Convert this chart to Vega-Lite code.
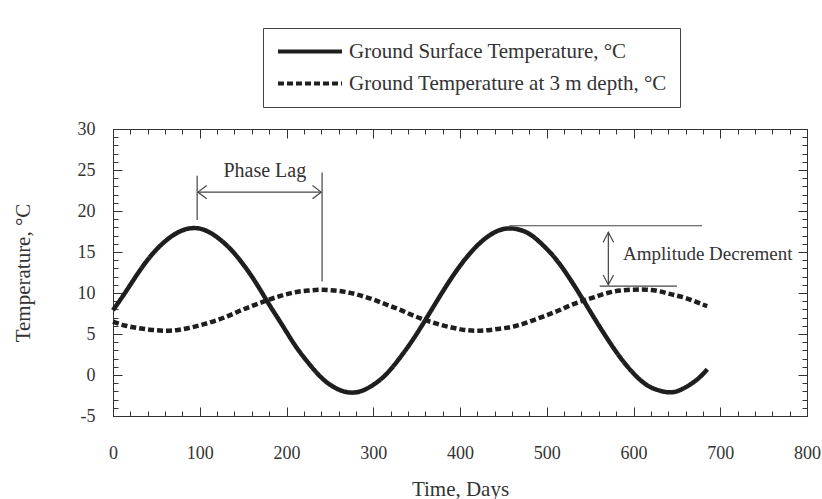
{
  "$schema": "https://vega.github.io/schema/vega-lite/v6.json",
  "width": 694,
  "height": 287,
  "autosize": {"type": "none"},
  "padding": {"left": 113, "top": 129, "right": 15, "bottom": 83},
  "background": "white",
  "config": {
    "view": {"stroke": "#333", "strokeWidth": 1},
    "font": "Liberation Serif",
    "axis": {"grid": false, "domainColor": "#333", "tickColor": "#333", "labelColor": "#333", "titleColor": "#333", "labelFont": "Liberation Serif", "titleFont": "Liberation Serif", "labelFontSize": 18, "titleFontSize": 21, "titleFontWeight": "normal"}
  },
  "datasets": {
    "temps": [
      {"day": 0, "temp": 7.9, "series": "Ground Surface Temperature, °C"},
      {"day": 15, "temp": 10.2, "series": "Ground Surface Temperature, °C"},
      {"day": 30, "temp": 12.6, "series": "Ground Surface Temperature, °C"},
      {"day": 45, "temp": 14.7, "series": "Ground Surface Temperature, °C"},
      {"day": 60, "temp": 16.3, "series": "Ground Surface Temperature, °C"},
      {"day": 75, "temp": 17.4, "series": "Ground Surface Temperature, °C"},
      {"day": 90, "temp": 17.9, "series": "Ground Surface Temperature, °C"},
      {"day": 105, "temp": 17.7, "series": "Ground Surface Temperature, °C"},
      {"day": 120, "temp": 16.8, "series": "Ground Surface Temperature, °C"},
      {"day": 135, "temp": 15.4, "series": "Ground Surface Temperature, °C"},
      {"day": 150, "temp": 13.5, "series": "Ground Surface Temperature, °C"},
      {"day": 165, "temp": 11.2, "series": "Ground Surface Temperature, °C"},
      {"day": 180, "temp": 8.6, "series": "Ground Surface Temperature, °C"},
      {"day": 195, "temp": 6.1, "series": "Ground Surface Temperature, °C"},
      {"day": 210, "temp": 3.6, "series": "Ground Surface Temperature, °C"},
      {"day": 225, "temp": 1.5, "series": "Ground Surface Temperature, °C"},
      {"day": 240, "temp": -0.3, "series": "Ground Surface Temperature, °C"},
      {"day": 255, "temp": -1.5, "series": "Ground Surface Temperature, °C"},
      {"day": 270, "temp": -2.1, "series": "Ground Surface Temperature, °C"},
      {"day": 285, "temp": -2.0, "series": "Ground Surface Temperature, °C"},
      {"day": 300, "temp": -1.2, "series": "Ground Surface Temperature, °C"},
      {"day": 315, "temp": 0.1, "series": "Ground Surface Temperature, °C"},
      {"day": 330, "temp": 2.0, "series": "Ground Surface Temperature, °C"},
      {"day": 345, "temp": 4.2, "series": "Ground Surface Temperature, °C"},
      {"day": 360, "temp": 6.7, "series": "Ground Surface Temperature, °C"},
      {"day": 375, "temp": 9.3, "series": "Ground Surface Temperature, °C"},
      {"day": 390, "temp": 11.8, "series": "Ground Surface Temperature, °C"},
      {"day": 405, "temp": 14.0, "series": "Ground Surface Temperature, °C"},
      {"day": 420, "temp": 15.8, "series": "Ground Surface Temperature, °C"},
      {"day": 435, "temp": 17.1, "series": "Ground Surface Temperature, °C"},
      {"day": 450, "temp": 17.8, "series": "Ground Surface Temperature, °C"},
      {"day": 465, "temp": 17.8, "series": "Ground Surface Temperature, °C"},
      {"day": 480, "temp": 17.2, "series": "Ground Surface Temperature, °C"},
      {"day": 495, "temp": 15.9, "series": "Ground Surface Temperature, °C"},
      {"day": 510, "temp": 14.2, "series": "Ground Surface Temperature, °C"},
      {"day": 525, "temp": 12.0, "series": "Ground Surface Temperature, °C"},
      {"day": 540, "temp": 9.5, "series": "Ground Surface Temperature, °C"},
      {"day": 555, "temp": 6.9, "series": "Ground Surface Temperature, °C"},
      {"day": 570, "temp": 4.4, "series": "Ground Surface Temperature, °C"},
      {"day": 585, "temp": 2.1, "series": "Ground Surface Temperature, °C"},
      {"day": 600, "temp": 0.2, "series": "Ground Surface Temperature, °C"},
      {"day": 615, "temp": -1.2, "series": "Ground Surface Temperature, °C"},
      {"day": 630, "temp": -1.9, "series": "Ground Surface Temperature, °C"},
      {"day": 645, "temp": -2.1, "series": "Ground Surface Temperature, °C"},
      {"day": 660, "temp": -1.5, "series": "Ground Surface Temperature, °C"},
      {"day": 675, "temp": -0.4, "series": "Ground Surface Temperature, °C"},
      {"day": 685, "temp": 0.7, "series": "Ground Surface Temperature, °C"},
      {"day": 0, "temp": 6.5, "series": "Ground Temperature at 3 m depth, °C"},
      {"day": 15, "temp": 6.0, "series": "Ground Temperature at 3 m depth, °C"},
      {"day": 30, "temp": 5.7, "series": "Ground Temperature at 3 m depth, °C"},
      {"day": 45, "temp": 5.5, "series": "Ground Temperature at 3 m depth, °C"},
      {"day": 60, "temp": 5.4, "series": "Ground Temperature at 3 m depth, °C"},
      {"day": 75, "temp": 5.5, "series": "Ground Temperature at 3 m depth, °C"},
      {"day": 90, "temp": 5.8, "series": "Ground Temperature at 3 m depth, °C"},
      {"day": 105, "temp": 6.2, "series": "Ground Temperature at 3 m depth, °C"},
      {"day": 120, "temp": 6.7, "series": "Ground Temperature at 3 m depth, °C"},
      {"day": 135, "temp": 7.3, "series": "Ground Temperature at 3 m depth, °C"},
      {"day": 150, "temp": 8.0, "series": "Ground Temperature at 3 m depth, °C"},
      {"day": 165, "temp": 8.6, "series": "Ground Temperature at 3 m depth, °C"},
      {"day": 180, "temp": 9.2, "series": "Ground Temperature at 3 m depth, °C"},
      {"day": 195, "temp": 9.7, "series": "Ground Temperature at 3 m depth, °C"},
      {"day": 210, "temp": 10.1, "series": "Ground Temperature at 3 m depth, °C"},
      {"day": 225, "temp": 10.3, "series": "Ground Temperature at 3 m depth, °C"},
      {"day": 240, "temp": 10.4, "series": "Ground Temperature at 3 m depth, °C"},
      {"day": 255, "temp": 10.3, "series": "Ground Temperature at 3 m depth, °C"},
      {"day": 270, "temp": 10.1, "series": "Ground Temperature at 3 m depth, °C"},
      {"day": 285, "temp": 9.7, "series": "Ground Temperature at 3 m depth, °C"},
      {"day": 300, "temp": 9.2, "series": "Ground Temperature at 3 m depth, °C"},
      {"day": 315, "temp": 8.6, "series": "Ground Temperature at 3 m depth, °C"},
      {"day": 330, "temp": 8.0, "series": "Ground Temperature at 3 m depth, °C"},
      {"day": 345, "temp": 7.3, "series": "Ground Temperature at 3 m depth, °C"},
      {"day": 360, "temp": 6.7, "series": "Ground Temperature at 3 m depth, °C"},
      {"day": 375, "temp": 6.2, "series": "Ground Temperature at 3 m depth, °C"},
      {"day": 390, "temp": 5.8, "series": "Ground Temperature at 3 m depth, °C"},
      {"day": 405, "temp": 5.5, "series": "Ground Temperature at 3 m depth, °C"},
      {"day": 420, "temp": 5.4, "series": "Ground Temperature at 3 m depth, °C"},
      {"day": 435, "temp": 5.5, "series": "Ground Temperature at 3 m depth, °C"},
      {"day": 450, "temp": 5.7, "series": "Ground Temperature at 3 m depth, °C"},
      {"day": 465, "temp": 6.0, "series": "Ground Temperature at 3 m depth, °C"},
      {"day": 480, "temp": 6.5, "series": "Ground Temperature at 3 m depth, °C"},
      {"day": 495, "temp": 7.1, "series": "Ground Temperature at 3 m depth, °C"},
      {"day": 510, "temp": 7.7, "series": "Ground Temperature at 3 m depth, °C"},
      {"day": 525, "temp": 8.4, "series": "Ground Temperature at 3 m depth, °C"},
      {"day": 540, "temp": 9.0, "series": "Ground Temperature at 3 m depth, °C"},
      {"day": 555, "temp": 9.5, "series": "Ground Temperature at 3 m depth, °C"},
      {"day": 570, "temp": 10.0, "series": "Ground Temperature at 3 m depth, °C"},
      {"day": 585, "temp": 10.3, "series": "Ground Temperature at 3 m depth, °C"},
      {"day": 600, "temp": 10.4, "series": "Ground Temperature at 3 m depth, °C"},
      {"day": 615, "temp": 10.4, "series": "Ground Temperature at 3 m depth, °C"},
      {"day": 630, "temp": 10.2, "series": "Ground Temperature at 3 m depth, °C"},
      {"day": 645, "temp": 9.8, "series": "Ground Temperature at 3 m depth, °C"},
      {"day": 660, "temp": 9.4, "series": "Ground Temperature at 3 m depth, °C"},
      {"day": 675, "temp": 8.8, "series": "Ground Temperature at 3 m depth, °C"},
      {"day": 685, "temp": 8.4, "series": "Ground Temperature at 3 m depth, °C"}
    ],
    "segments": [
      {"seg": "v1", "i": 1, "day": 97, "temp": 24.3},
      {"seg": "v1", "i": 2, "day": 97, "temp": 18.9},
      {"seg": "v2", "i": 1, "day": 241, "temp": 24.7},
      {"seg": "v2", "i": 2, "day": 241, "temp": 11.4},
      {"seg": "shaft", "i": 1, "day": 98, "temp": 22.3},
      {"seg": "shaft", "i": 2, "day": 240, "temp": 22.3},
      {"seg": "hl", "i": 1, "day": 108, "temp": 23.1},
      {"seg": "hl", "i": 2, "day": 98, "temp": 22.3},
      {"seg": "hl", "i": 3, "day": 108, "temp": 21.5},
      {"seg": "hr", "i": 1, "day": 230, "temp": 23.1},
      {"seg": "hr", "i": 2, "day": 240, "temp": 22.3},
      {"seg": "hr", "i": 3, "day": 230, "temp": 21.5},
      {"seg": "top", "i": 1, "day": 457, "temp": 18.2},
      {"seg": "top", "i": 2, "day": 679, "temp": 18.2},
      {"seg": "bot", "i": 1, "day": 561, "temp": 10.85},
      {"seg": "bot", "i": 2, "day": 650, "temp": 10.85},
      {"seg": "vert", "i": 1, "day": 571, "temp": 17.4},
      {"seg": "vert", "i": 2, "day": 571, "temp": 11.0},
      {"seg": "ht", "i": 1, "day": 565, "temp": 16.2},
      {"seg": "ht", "i": 2, "day": 571, "temp": 17.4},
      {"seg": "ht", "i": 3, "day": 577, "temp": 16.2},
      {"seg": "hb", "i": 1, "day": 565, "temp": 12.2},
      {"seg": "hb", "i": 2, "day": 571, "temp": 11.0},
      {"seg": "hb", "i": 3, "day": 577, "temp": 12.2}
    ]
  },
  "layer": [
    {
      "data": {"name": "temps"},
      "mark": {"type": "line", "interpolate": "natural", "strokeWidth": 4.5, "color": "#1e1e1e"},
      "encoding": {
        "x": {"field": "day", "type": "quantitative", "scale": {"domain": [0, 800], "nice": false},
          "axis": {"orient": "bottom", "title": "Time, Days", "values": [0,20,40,60,80,100,120,140,160,180,200,220,240,260,280,300,320,340,360,380,400,420,440,460,480,500,520,540,560,580,600,620,640,660,680,700,720,740,760,780,800],
            "labelExpr": "datum.value % 100 === 0 ? '' + datum.value : ''",
            "tickSize": {"condition": {"test": "datum.value % 100 === 0", "value": -9}, "value": -5},
            "labelPadding": 37, "titlePadding": 12, "labelFlush": false, "labelOverlap": false}},
        "y": {"field": "temp", "type": "quantitative", "scale": {"domain": [-5, 30], "nice": false},
          "axis": {"orient": "left", "title": "Temperature, °C", "values": [-5,-4,-3,-2,-1,0,1,2,3,4,5,6,7,8,9,10,11,12,13,14,15,16,17,18,19,20,21,22,23,24,25,26,27,28,29,30],
            "labelExpr": "datum.value % 5 === 0 ? '' + datum.value : ''",
            "tickSize": {"condition": {"test": "datum.value % 5 === 0", "value": -9}, "value": -5},
            "labelPadding": 27, "titlePadding": 44, "labelFlush": false, "labelOverlap": false}},
        "strokeDash": {"field": "series", "type": "nominal",
          "scale": {"domain": ["Ground Surface Temperature, °C", "Ground Temperature at 3 m depth, °C"], "range": [[1, 0], [6, 3]]},
          "legend": {"orient": "none", "legendX": 150, "legendY": -101, "title": null, "symbolType": "stroke", "symbolSize": 4096, "symbolStrokeWidth": 4, "symbolStrokeColor": "#1e1e1e", "clipHeight": 21, "labelFont": "Liberation Serif", "labelFontSize": 21, "labelColor": "#333", "labelLimit": 500, "labelOffset": 5, "strokeColor": "#444", "fillColor": "white", "padding": 13, "rowPadding": 10}}
      }
    },
    {
      "data": {"name": "segments"},
      "mark": {"type": "line", "strokeWidth": 1.2, "color": "#444"},
      "encoding": {
        "x": {"field": "day", "type": "quantitative",
          "axis": {"orient": "top", "title": null, "labels": false, "values": [0,20,40,60,80,100,120,140,160,180,200,220,240,260,280,300,320,340,360,380,400,420,440,460,480,500,520,540,560,580,600,620,640,660,680,700,720,740,760,780,800],
            "tickSize": {"condition": {"test": "datum.value % 100 === 0", "value": -9}, "value": -5}}},
        "y": {"field": "temp", "type": "quantitative",
          "axis": {"orient": "right", "title": null, "labels": false, "values": [-5,-4,-3,-2,-1,0,1,2,3,4,5,6,7,8,9,10,11,12,13,14,15,16,17,18,19,20,21,22,23,24,25,26,27,28,29,30],
            "tickSize": {"condition": {"test": "datum.value % 5 === 0", "value": -9}, "value": -5}}},
        "detail": {"field": "seg", "type": "nominal"},
        "order": {"field": "i", "type": "quantitative"}
      }
    },
    {
      "data": {"values": [{"label": "Phase Lag", "day": 175, "temp": 24.9}]},
      "mark": {"type": "text", "font": "Liberation Serif", "fontSize": 20, "color": "#333", "baseline": "middle", "align": "center"},
      "encoding": {
        "x": {"field": "day", "type": "quantitative", "axis": null},
        "y": {"field": "temp", "type": "quantitative", "axis": null},
        "text": {"field": "label"}
      }
    },
    {
      "data": {"values": [{"label": "Amplitude Decrement", "day": 588, "temp": 14.75}]},
      "mark": {"type": "text", "font": "Liberation Serif", "fontSize": 19, "color": "#333", "baseline": "middle", "align": "left"},
      "encoding": {
        "x": {"field": "day", "type": "quantitative", "axis": null},
        "y": {"field": "temp", "type": "quantitative", "axis": null},
        "text": {"field": "label"}
      }
    }
  ],
  "resolve": {"axis": {"x": "independent", "y": "independent"}}
}
